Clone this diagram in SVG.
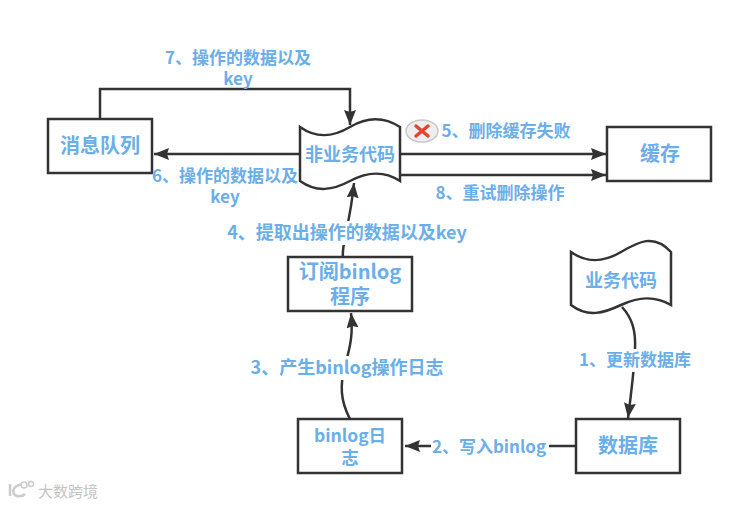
<svg xmlns="http://www.w3.org/2000/svg" width="743" height="505" viewBox="0 0 743 505">
<style>
text{font-family:"Noto Sans CJK SC","Liberation Sans",sans-serif;font-weight:700;fill:#6aaeea;text-anchor:middle}
.n{font-size:20px}
.m{font-size:18px}
.b{font-size:17.5px}
.l{font-size:17px}
.w{font-size:18px}
.s{fill:#fff;stroke:#333;stroke-width:2.5}
.c{fill:none;stroke:#333;stroke-width:2.5}
</style>
<defs>
<marker id="a" markerUnits="userSpaceOnUse" markerWidth="16" markerHeight="12" refX="15" refY="6" orient="auto"><path d="M0 0L15 6L0 12L2 6Z" fill="#333"/></marker>
</defs>
<rect width="743" height="505" fill="#fff"/>
<g id="connectors">
<path class="c" d="M100 119V89H350V125" marker-end="url(#a)"/>
<path class="c" d="M300 154H154" marker-end="url(#a)"/>
<path class="c" d="M400 154H606" marker-end="url(#a)"/>
<path class="c" d="M400 175H606" marker-end="url(#a)"/>
<path class="c" d="M343 257C341 245 350 225 354 183" marker-end="url(#a)"/>
<path class="c" d="M350 419C340 400 340 385 345 365C351 345 353 332 351 313" marker-end="url(#a)"/>
<path class="c" d="M622 307C632 318 636 330 635 350C634 372 631 395 628 418" marker-end="url(#a)"/>
<path class="c" d="M576 446H405" marker-end="url(#a)"/>
</g>
<g id="label-bg" fill="#fff">
<rect x="226" y="221" width="244" height="24"/>
<rect x="250" y="356" width="194" height="24"/>
<rect x="578" y="349" width="114" height="23"/>
<rect x="431" y="435" width="118" height="23"/>
</g>
<g id="node-queue"><rect class="s" x="48" y="119" width="104" height="54"/><text class="n" x="100" y="153">消息队列</text></g>
<g id="node-nonbiz"><path class="s" d="M300 127C317 139 333 137 350 127S383 116 400 127V181C383 170 367 172 350 181S317 193 300 181Z"/><text class="m" x="350" y="161">非业务代码</text></g>
<g id="node-cache"><rect class="s" x="607" y="127" width="104" height="54"/><text class="n" x="660" y="161">缓存</text></g>
<g id="node-biz"><path class="s" d="M571 252C588 264 604 262 621 252S654 233 671 252V305C654 295 638 297 621 305S588 318 571 305Z"/><text class="m" x="621" y="287">业务代码</text></g>
<g id="node-sub"><rect class="s" x="288" y="257" width="124" height="54"/><text class="n" x="350" y="279">订阅binlog</text><text class="n" x="350" y="304">程序</text></g>
<g id="node-binlog"><rect class="s" x="298" y="419" width="104" height="54"/><text class="b" x="350" y="442">binlog日</text><text class="b" x="350" y="464">志</text></g>
<g id="node-db"><rect class="s" x="576" y="419" width="104" height="54"/><text class="n" x="628" y="453">数据库</text></g>
<g id="labels">
<text class="l" x="238" y="64">7、操作的数据以及</text><text class="l" x="238" y="85">key</text>
<text class="l" x="225" y="182">6、操作的数据以及</text><text class="l" x="225" y="203">key</text>
<text class="l" x="506" y="137">5、删除缓存失败</text>
<text class="l" x="500" y="199">8、重试删除操作</text>
<text class="w" x="347" y="239">4、提取出操作的数据以及key</text>
<text class="w" x="347" y="374">3、产生binlog操作日志</text>
<text class="l" x="635" y="366">1、更新数据库</text>
<text class="l" x="489" y="453">2、写入binlog</text>
</g>
<g id="fail-icon">
<ellipse cx="422" cy="131" rx="16" ry="11" fill="#eee" stroke="#c8c8c8" stroke-width="1.5"/>
<path d="M416 126L428 136M428 126L416 136" stroke="#e2452f" stroke-width="3.5" stroke-linecap="round" fill="none"/>
</g>
<g id="watermark">
<path d="M10 484V496M22 484C14 486 12 490 14 494C16 497 22 497 25 494" fill="none" stroke="#ccc" stroke-width="2.5"/>
<circle cx="24" cy="485" r="3" fill="none" stroke="#ccc" stroke-width="1.5"/>
<circle cx="31" cy="484" r="2.5" fill="none" stroke="#ccc" stroke-width="1.5"/>
<text x="68" y="497" style="font-size:15px;fill:#c4c4c4;font-weight:400">大数跨境</text>
</g>
</svg>
